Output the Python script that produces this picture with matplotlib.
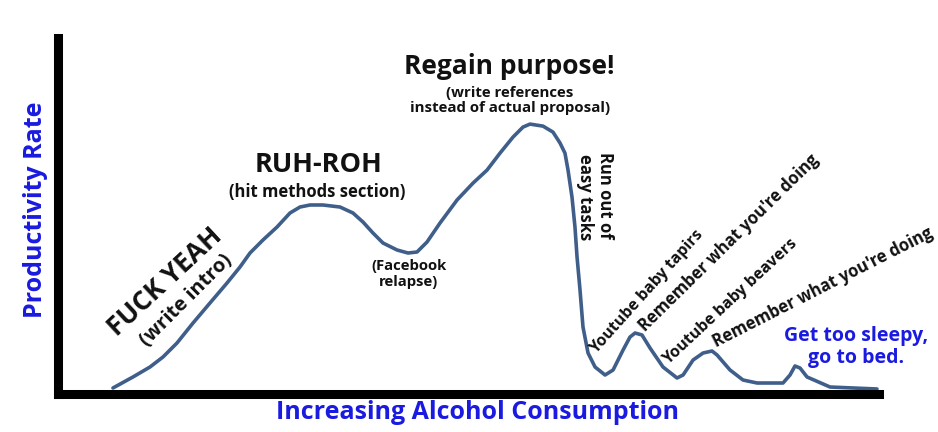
"""Productivity vs alcohol, thesis-proposal edition."""
import matplotlib

matplotlib.use("Agg")
import matplotlib.pyplot as plt

plt.rcParams["font.family"] = ["Open Sans", "DejaVu Sans"]

# curve: x = alcohol (0-100), y = productivity (0-100)
alcohol = [6.71, 9.13, 11.19, 12.76, 14.46, 16.40, 18.45, 20.51, 22.08, 23.29,
           24.86, 26.56, 28.13, 29.34, 30.55, 32.12, 34.18, 35.75, 36.96, 38.17,
           39.38, 41.08, 42.41, 43.50, 44.71, 46.28, 48.34, 50.27, 51.97, 53.54,
           55.11, 56.32, 57.17, 58.74, 59.95, 60.80, 61.40, 61.77, 62.25, 62.61,
           62.86, 63.22, 63.58, 64.19, 65.04, 66.25, 67.22, 68.43, 69.27, 69.88,
           70.72, 71.69, 73.26, 74.96, 75.69, 76.90, 78.11, 79.19, 79.80, 81.37,
           82.94, 84.64, 87.78, 88.63, 89.23, 89.84, 90.69, 93.47, 96.25, 99.15]
productivity = [1.53, 4.58, 7.35, 10.12, 14.01, 19.56, 25.11, 30.65, 35.09, 38.97,
                42.58, 46.18, 50.07, 51.73, 52.29, 52.29, 51.73, 50.07, 47.57, 44.52,
                41.75, 39.81, 38.97, 39.25, 42.02, 47.29, 53.67, 58.36, 61.97, 66.68,
                71.12, 73.90, 74.73, 74.17, 72.51, 69.49, 66.68, 61.97, 54.48, 46.18,
                37.86, 28.71, 18.44, 11.23, 7.35, 5.13, 6.52, 12.07, 15.67, 16.78,
                16.23, 12.62, 7.35, 4.30, 5.13, 9.29, 11.23, 11.79, 10.68, 6.52,
                3.74, 2.91, 2.91, 5.13, 7.63, 7.07, 4.58, 1.80, 1.53, 1.25]

LINE, BLUE, INK = "#3f5f8a", "#1a1ae0", "#111111"

fig = plt.figure(figsize=(9.38, 4.32), dpi=100)
ax = fig.add_axes([57.5 / 938, 1 - 393.5 / 432, 826.5 / 938, 360.5 / 432])
ax.plot(alcohol, productivity, color=LINE, lw=2.6, solid_joinstyle="round",
        solid_capstyle="round", clip_on=False)
ax.set_xlim(0, 100); ax.set_ylim(0, 100)
for s in ("top", "right"):
    ax.spines[s].set_visible(False)
for s in ("left", "bottom"):
    ax.spines[s].set_linewidth(6.5); ax.spines[s].set_color("black")
    ax.spines[s].set_capstyle("projecting")
ax.spines["left"].set_bounds(0, 98.75)
ax.spines["bottom"].set_bounds(0, 99.45)
ax.set_xticks([]); ax.set_yticks([])

ax.set_xlabel("Increasing Alcohol Consumption", color=BLUE, fontsize=18,
              fontweight="bold")
ax.set_ylabel("Productivity Rate", color=BLUE, fontsize=18, fontweight="bold")
ax.xaxis.set_label_coords(0.508, -0.018)
ax.yaxis.set_label_coords(-0.012, 0.51)


def note(x, y, s, size=12, rot=0, ls=1.0, **kw):
    ax.text(x, y, s, fontsize=size, rotation=rot, ha="center", va="center",
            fontweight="bold", color=kw.pop("color", INK), linespacing=ls,
            rotation_mode="anchor", **kw)


note(13.0, 31.0, "FUCK YEAH", size=19, rot=43)
note(15.6, 25.8, "(write intro)", size=14.5, rot=45)
note(31.6, 63.4, "RUH-ROH", size=19.5)
note(31.4, 55.8, "(hit methods section)", size=12)
note(42.5, 33.1, "(Facebook\nrelapse)", size=10.7, ls=1.15)
note(54.7, 90.6, "Regain purpose!", size=19)
note(54.7, 81.3, "(write references\ninstead of actual proposal)", size=10.8, ls=1.05)
note(66.2, 55.0, "Run out of", size=12, rot=270)
note(63.8, 54.5, "easy tasks", size=12, rot=270)
note(71.3, 28.1, "Youtube baby tapirs", size=11.5, rot=48)
note(81.2, 41.8, "Remember what you're doing", size=12, rot=44.5)
note(81.4, 25.4, "Youtube baby beavers", size=11.5, rot=43)
note(92.6, 29.3, "Remember what you're doing", size=12, rot=27)
note(96.6, 13.0, "Get too sleepy,\ngo to bed.", size=14, color=BLUE, ls=1.15)

fig.savefig("out.png", dpi=100)
